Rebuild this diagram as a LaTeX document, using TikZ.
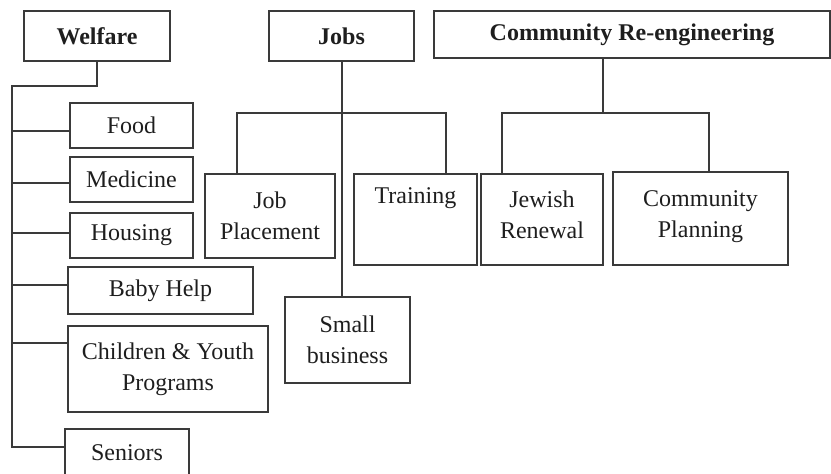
\documentclass[tikz,border=0pt]{standalone}
\usepackage{fontspec}
\setmainfont{Liberation Serif}
\definecolor{linec}{HTML}{3A3A3A}
\definecolor{textc}{HTML}{1E1E1E}
\begin{document}
\begin{tikzpicture}[x=1pt,y=-1pt,
  box/.style={draw=linec, line width=1.4pt, inner sep=0pt, align=center, text=textc,
    font=\fontsize{24}{31}\selectfont},
  head/.style={box, font=\fontsize{24}{29}\selectfont\bfseries},
  conn/.style={draw=linec, line width=1.4pt}]
\useasboundingbox (0,0) rectangle (831,474);
% headers
\node[head, minimum width=146pt, minimum height=50pt] (welfare) at (97,36) {Welfare};
\node[head, minimum width=145pt, minimum height=50pt] (jobs) at (341.5,36) {Jobs};
\node[head, minimum width=396pt, minimum height=47pt] (comm) at (632,34.5) {Community Re-engineering};
% welfare children
\node[box, minimum width=123pt, minimum height=45pt] (food) at (131.5,125.5) {Food};
\node[box, minimum width=123pt, minimum height=45pt] (medicine) at (131.5,179.5) {Medicine};
\node[box, minimum width=123pt, minimum height=45pt] (housing) at (131.5,235.5) {Housing};
\node[box, minimum width=185pt, minimum height=47pt] (baby) at (160.5,290.5) {Baby Help};
\node[box, minimum width=200pt, minimum height=86pt] (children) at (168,369) {Children \& Youth\\Programs};
\node[box, minimum width=124pt, minimum height=47pt] (seniors) at (127,452.5) {Seniors};
% jobs children
\node[box, minimum width=130pt, minimum height=84pt] (placement) at (270,216) {Job\\Placement};
\node[box, minimum width=123pt, minimum height=91pt, text height=17pt, text depth=50pt] (training) at (415.5,219.5) {Training};
\node[box, minimum width=125pt, minimum height=86pt] (small) at (347.5,340) {Small\\business};
% community children
\node[box, minimum width=122pt, minimum height=91pt, text depth=10pt] (jewish) at (542,219.5) {Jewish\\Renewal};
\node[box, minimum width=175pt, minimum height=93pt, text depth=8pt] (planning) at (700.5,218.5) {Community\\Planning};
% welfare connectors
\coordinate (wtop) at (12,86);
\coordinate (tfood) at (12,131);
\coordinate (tmed) at (12,183);
\coordinate (thous) at (12,233);
\coordinate (tbaby) at (12,285);
\coordinate (tchild) at (12,343);
\coordinate (tsen) at (12,447);
\draw[conn] (welfare.south) |- (wtop) -- (tsen) -- (tsen -| seniors.west);
\draw[conn] (tfood) -- (tfood -| food.west);
\draw[conn] (tmed) -- (tmed -| medicine.west);
\draw[conn] (thous) -- (thous -| housing.west);
\draw[conn] (tbaby) -- (tbaby -| baby.west);
\draw[conn] (tchild) -- (tchild -| children.west);
% jobs connectors
\coordinate (jv) at (342,113);
\coordinate (jl) at (237,113);
\coordinate (jr) at (446,113);
\draw[conn] (jv |- jobs.south) -- (jv |- small.north);
\draw[conn] (jl |- placement.north) -- (jl) -- (jr) -- (jr |- training.north);
% community connectors
\coordinate (cm) at (603,113);
\coordinate (cl) at (502,113);
\coordinate (cr) at (709,113);
\draw[conn] (cm |- comm.south) -- (cm);
\draw[conn] (cl |- jewish.north) -- (cl) -- (cr) -- (cr |- planning.north);
\end{tikzpicture}
\end{document}
